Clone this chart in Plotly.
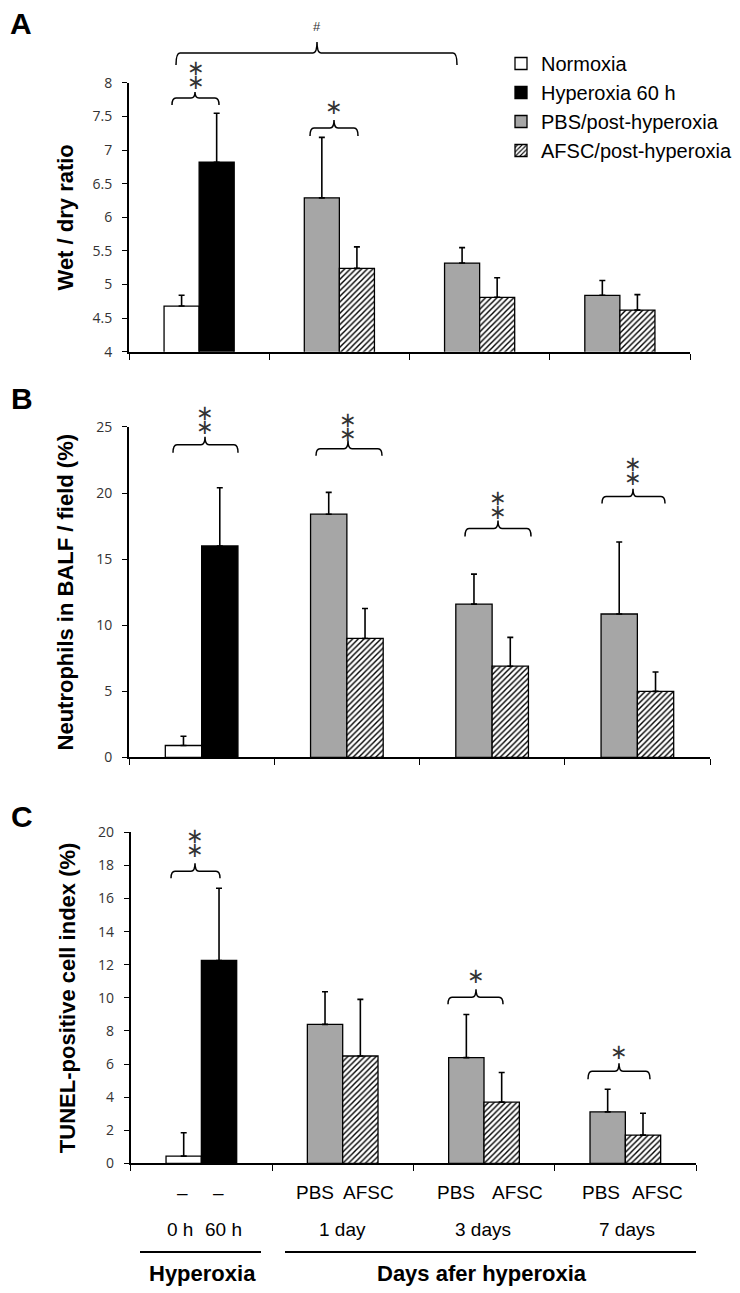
import plotly.graph_objects as go

# ---------------- data ----------------
legend_names = ["Normoxia", "Hyperoxia 60 h", "PBS/post-hyperoxia", "AFSC/post-hyperoxia"]
groups = ["Hyperoxia", "1 day", "3 days", "7 days"]
days = ["1 day", "3 days", "7 days"]
treat_labels = ["PBS", "AFSC"]
hyper_time_labels = ["0 h", "60 h"]

# Panel A: wet / dry ratio
wet_normoxia = [4.68]
wet_normoxia_err = [0.16]
wet_hyperoxia = [6.82]
wet_hyperoxia_err = [0.73]
wet_pbs = [6.29, 5.32, 4.84]
wet_pbs_err = [0.90, 0.23, 0.22]
wet_afsc = [5.24, 4.81, 4.62]
wet_afsc_err = [0.32, 0.29, 0.23]

# Panel B: neutrophils in BALF / field (%)
neu_normoxia = [0.9]
neu_normoxia_err = [0.7]
neu_hyperoxia = [16.0]
neu_hyperoxia_err = [4.4]
neu_pbs = [18.4, 11.6, 10.85]
neu_pbs_err = [1.65, 2.27, 5.45]
neu_afsc = [9.0, 6.9, 5.0]
neu_afsc_err = [2.27, 2.18, 1.46]

# Panel C: TUNEL-positive cell index (%)
tun_normoxia = [0.44]
tun_normoxia_err = [1.41]
tun_hyperoxia = [12.26]
tun_hyperoxia_err = [4.36]
tun_pbs = [8.4, 6.39, 3.11]
tun_pbs_err = [1.97, 2.61, 1.37]
tun_afsc = [6.49, 3.70, 1.71]
tun_afsc_err = [3.42, 1.79, 1.32]

# ---------------- layout helpers ----------------
W, H = 740, 1293
# page placement of the figure as photographed (left offset, top offset, drawn height)
OX, OY, HH = 8, 18, 1275
def px(x):
    return (x - OX) / W
def py(y):
    return 1 - (y - OY) / HH

gx = {g: i for i, g in enumerate(groups)}
x_hyper = [gx["Hyperoxia"]]
x_post = [gx[d] for d in days]

GRAY = "#a6a6a6"
LINE = dict(color="black", width=1.3)

def err(arr):
    return dict(type="data", array=arr, arrayminus=[0] * len(arr), symmetric=False,
                color="black", thickness=1.6, width=3)

fig = go.Figure()

panels = [
    ("x", "y", wet_normoxia, wet_normoxia_err, wet_hyperoxia, wet_hyperoxia_err,
     wet_pbs, wet_pbs_err, wet_afsc, wet_afsc_err, True),
    ("x2", "y2", neu_normoxia, neu_normoxia_err, neu_hyperoxia, neu_hyperoxia_err,
     neu_pbs, neu_pbs_err, neu_afsc, neu_afsc_err, False),
    ("x3", "y3", tun_normoxia, tun_normoxia_err, tun_hyperoxia, tun_hyperoxia_err,
     tun_pbs, tun_pbs_err, tun_afsc, tun_afsc_err, False),
]

for xa, ya, nv, ne, hv, he, pv, pe, av, ae, sl in panels:
    fig.add_trace(go.Bar(x=x_hyper, y=nv, error_y=err(ne), name=legend_names[0],
                         legendgroup="n", showlegend=sl, offsetgroup="L",
                         marker=dict(color="white", line=LINE), xaxis=xa, yaxis=ya))
    fig.add_trace(go.Bar(x=x_hyper, y=hv, error_y=err(he), name=legend_names[1],
                         legendgroup="h", showlegend=sl, offsetgroup="R",
                         marker=dict(color="black", line=LINE), xaxis=xa, yaxis=ya))
    fig.add_trace(go.Bar(x=x_post, y=pv, error_y=err(pe), name=legend_names[2],
                         legendgroup="p", showlegend=sl, offsetgroup="L",
                         marker=dict(color=GRAY, line=LINE), xaxis=xa, yaxis=ya))
    fig.add_trace(go.Bar(x=x_post, y=av, error_y=err(ae), name=legend_names[3],
                         legendgroup="a", showlegend=sl, offsetgroup="R",
                         marker=dict(color="white", line=LINE,
                                     pattern=dict(shape="/", size=4, solidity=0.35,
                                                  fgcolor="black", bgcolor="white",
                                                  fillmode="replace")),
                         xaxis=xa, yaxis=ya))

TICKFONT = dict(family="Open Sans", size=14, color="#333")
TITLEFONT = dict(family="Liberation Sans", size=22, color="black")
bounds = [i - 0.5 for i in range(len(groups) + 1)]

def xax(domain, overlay=None, anchor=None):
    d = dict(domain=domain, range=[-0.5, len(groups) - 0.5], tickmode="array",
             tickvals=bounds, showticklabels=False, showgrid=False, zeroline=False,
             ticklen=6, tickwidth=1.4, tickcolor="black", fixedrange=True)
    if overlay:
        d.update(overlaying=overlay, anchor=anchor, ticks="inside", showline=False)
    else:
        d.update(anchor=anchor, ticks="outside", showline=True, linecolor="black", linewidth=2)
    return d

def yax(domain, rng, dtick, title=None, standoff=15, overlay=None, anchor=None):
    d = dict(range=rng, dtick=dtick, tick0=rng[0], showgrid=False, zeroline=False,
             ticklen=5, tickwidth=1.4, tickcolor="black", fixedrange=True)
    if overlay:
        d.update(overlaying=overlay, anchor=anchor, ticks="inside", showline=False,
                 showticklabels=False)
    else:
        d.update(domain=domain, anchor=anchor, ticks="outside", showline=True,
                 linecolor="black", linewidth=2, tickfont=TICKFONT,
                 ticklabelstandoff=7,
                 title=dict(text="<b>%s</b>" % title, font=TITLEFONT, standoff=standoff))
    return d

dA = [py(352), py(83)]
dB = [py(758), py(427.3)]
dC = [py(1164.3), py(833)]
xdA = [px(129), px(690)]
xdB = [px(129), px(710)]
xdC = [px(130.7), px(696)]

fig.update_layout(
    xaxis=xax(xdA, anchor="y"),
    yaxis=yax(dA, [4, 8], 0.5, "Wet / dry ratio", 13, anchor="x"),
    xaxis2=xax(xdB, anchor="y2"),
    yaxis2=yax(dB, [0, 25], 5, "Neutrophils in BALF / field (%)", 16, anchor="x2"),
    xaxis3=xax(xdC, anchor="y3"),
    yaxis3=yax(dC, [0, 20], 2, "TUNEL-positive cell index (%)", 16, anchor="x3"),
    xaxis4=xax(xdA, overlay="x", anchor="y"),
    xaxis5=xax(xdB, overlay="x2", anchor="y2"),
    xaxis6=xax(xdC, overlay="x3", anchor="y3"),
    yaxis4=yax(None, [4, 8], 0.5, overlay="y", anchor="x"),
    yaxis5=yax(None, [0, 25], 5, overlay="y2", anchor="x2"),
    yaxis6=yax(None, [0, 20], 2, overlay="y3", anchor="x3"),
)

fig.update_layout(
    width=W, height=H, margin=dict(l=0, r=0, t=0, b=0),
    paper_bgcolor="white", plot_bgcolor="white",
    barmode="group", bargap=0.5, bargroupgap=0,
    font=dict(family="Liberation Sans", color="black"),
    showlegend=True,
    legend=dict(x=px(501), y=py(44), xanchor="left", yanchor="top",
                font=dict(family="Liberation Sans", size=20, color="black"),
                bgcolor="rgba(0,0,0,0)", traceorder="normal", tracegroupgap=0),
)

# ---------------- brackets & significance marks ----------------
shapes = []
annots = []

def brace(x0, x1, xm, y, tip, top, r=4):
    p = (f"M{px(x0)},{py(tip)} Q{px(x0)},{py(y)} {px(x0 + r)},{py(y)} "
         f"L{px(xm - r)},{py(y)} Q{px(xm)},{py(y)} {px(xm)},{py(top)} "
         f"Q{px(xm)},{py(y)} {px(xm + r)},{py(y)} "
         f"L{px(x1 - r)},{py(y)} Q{px(x1)},{py(y)} {px(x1)},{py(tip)}")
    shapes.append(dict(type="path", path=p, xref="paper", yref="paper",
                       line=dict(color="black", width=1.5)))

STARFONT = "DejaVu Sans"
def star(x, y):
    annots.append(dict(x=px(x), y=py(y), xref="paper", yref="paper", text="∗",
                       showarrow=False, xanchor="center", yanchor="middle",
                       font=dict(family=STARFONT, size=21, color="#333")))

def stars2(x, y):
    # two stacked asterisks, tight line spacing (line pitch follows the small base size)
    big = '<span style="font-size:21px">∗</span>'
    annots.append(dict(x=px(x), y=py(y), xref="paper", yref="paper",
                       text=big + "<br>" + big,
                       showarrow=False, xanchor="center", yanchor="middle",
                       font=dict(family=STARFONT, size=10.4, color="#333")))

# Panel A
brace(172, 219, 195, 98, 105, 92); stars2(196, 75)
brace(310, 358, 334, 128, 136, 120); star(334, 107)
brace(176, 457, 317, 53, 65, 42)
annots.append(dict(x=px(317), y=py(27), xref="paper", yref="paper", text="#",
                   showarrow=False, xanchor="center", yanchor="middle",
                   font=dict(family="Liberation Sans", size=13, color="#333")))
# Panel B
brace(173, 238, 205, 445, 453, 437); stars2(205, 420)
brace(316, 382, 348, 449, 456, 441); stars2(348, 427.5)
brace(465, 531, 498, 529, 537, 521); stars2(498, 505.5)
brace(602, 665, 633, 497, 504, 489); stars2(633, 471.5)
# Panel C
brace(171, 220, 195, 872, 879, 864); stars2(195, 843.5)
brace(448, 503, 476, 998, 1005, 990); star(476, 977)
brace(588, 650, 619, 1072, 1080, 1064); star(619, 1053)

# panel letters
for letter, (lx, ly) in zip("ABC", [(20.5, 23.5), (21.5, 398.5), (21.5, 817)]):
    annots.append(dict(x=px(lx), y=py(ly), xref="paper", yref="paper", text="<b>%s</b>" % letter,
                       showarrow=False, xanchor="center", yanchor="middle",
                       font=dict(family="Liberation Sans", size=30, color="black")))

# bottom labels
LBL = dict(family="Liberation Sans", size=19, color="black")
def label(x, y, text, font=LBL):
    annots.append(dict(x=px(x), y=py(y), xref="paper", yref="paper", text=text,
                       showarrow=False, xanchor="center", yanchor="middle", font=font))

label(182, 1193, "–"); label(219, 1193, "–")
for (cx_p, cx_a), d in zip([(315, 368), (455.5, 517), (601, 657.5)], days):
    label(cx_p, 1193, treat_labels[0]); label(cx_a, 1193, treat_labels[1])
label(180, 1230, hyper_time_labels[0]); label(223.5, 1230, hyper_time_labels[1])
for cx, d in zip([342, 483, 626.5], days):
    label(cx, 1230, d)
shapes.append(dict(type="line", xref="paper", yref="paper", x0=px(140), x1=px(261),
                   y0=py(1253), y1=py(1253), line=dict(color="black", width=2)))
shapes.append(dict(type="line", xref="paper", yref="paper", x0=px(285), x1=px(696),
                   y0=py(1253), y1=py(1253), line=dict(color="black", width=2)))
BOLD = dict(family="Liberation Sans", size=22, color="black")
label(202, 1274, "<b>Hyperoxia</b>", BOLD)
label(482, 1274, "<b>Days afer hyperoxia</b>", BOLD)

fig.update_layout(shapes=shapes, annotations=annots)
fig.write_html("out.html")
